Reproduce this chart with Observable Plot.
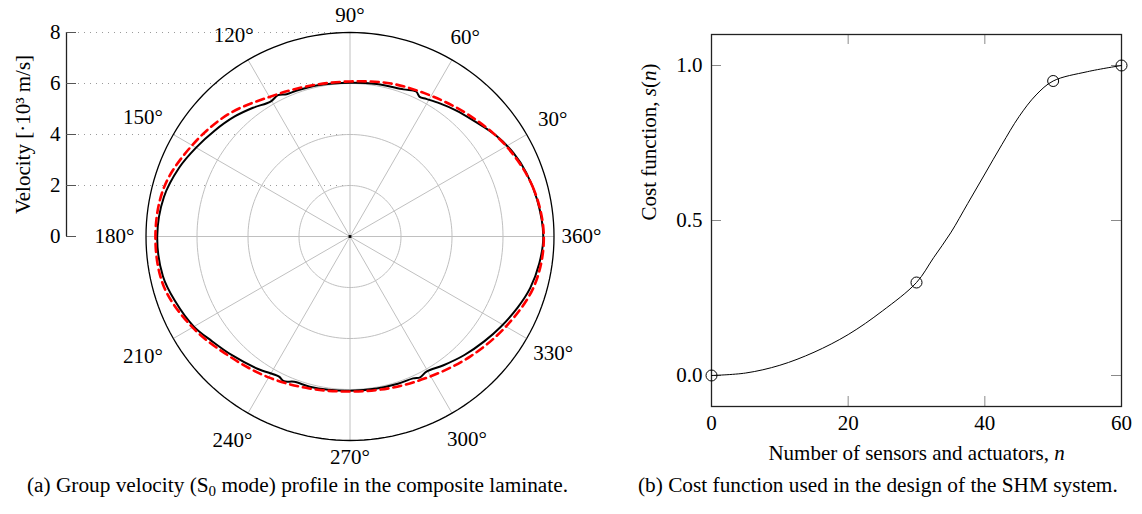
<!DOCTYPE html>
<html>
<head>
<meta charset="utf-8">
<script src="https://cdn.jsdelivr.net/npm/d3@7"></script>
<script src="https://cdn.jsdelivr.net/npm/@observablehq/plot@0.6"></script>
<style>
  html, body { margin: 0; padding: 0; background: #fff; }
  #wrap { position: relative; width: 1142px; height: 514px; overflow: hidden; background: #fff; font-family: "Liberation Serif", "Times New Roman", serif; }
  #left { position: absolute; left: 0; top: 0; }
  #right { position: absolute; left: 571px; top: 0; }
  .cap { position: absolute; top: 473px; font-size: 21.3px; line-height: 24px; white-space: nowrap; color: #000; }
  .cap sub { font-size: 15px; vertical-align: -4px; line-height: 0; }
</style>
</head>
<body>
<div id="wrap">
  <div id="left"></div>
  <div id="right"></div>
  <div class="cap" style="left:27px">(a) Group velocity (S<sub>0</sub> mode) profile in the composite laminate.</div>
  <div class="cap" style="left:638px">(b) Cost function used in the design of the SHM system.</div>
</div>
<script>
// ---------------- Data: panel (a) group velocity profile (·10^3 m/s) ----------------
const blackAngle = [0, 11, 20, 27, 35, 43, 50, 56, 61, 63.5, 65.5, 70, 80, 90, 102, 110, 114, 117, 120.5, 127, 134, 142, 150, 158, 168, 180, 192, 200, 210, 217, 225, 235, 243, 245.5, 249, 255, 262, 270, 280, 288, 294, 296.5, 299.5, 306, 314, 322, 329, 337, 344, 352];
const blackVel   = [7.58, 7.48, 7.35, 7.20, 6.95, 6.65, 6.46, 6.30, 6.17, 6.12, 6.25, 6.14, 6.07, 6.03, 6.06, 6.09, 6.11, 6.22, 6.14, 6.32, 6.53, 6.74, 6.97, 7.22, 7.46, 7.56, 7.50, 7.32, 7.07, 6.80, 6.57, 6.33, 6.16, 6.24, 6.10, 6.10, 6.07, 6.05, 6.05, 6.07, 6.09, 6.17, 6.09, 6.24, 6.46, 6.68, 6.89, 7.14, 7.35, 7.50];

const redAngle = [0, 15, 30, 45, 60, 75, 90, 105, 120, 135, 150, 165, 180, 195, 210, 225, 240, 255, 270, 285, 300, 315, 330, 345];
const redVel   = [7.60, 7.43, 7.08, 6.68, 6.37, 6.21, 6.08, 6.12, 6.32, 6.77, 7.15, 7.54, 7.63, 7.56, 7.13, 6.66, 6.38, 6.17, 6.08, 6.15, 6.33, 6.66, 7.06, 7.48];

const radialTicks = [0, 2, 4, 6, 8];
const radialGrid = [2, 4, 6];
const angleTicks = [30, 60, 90, 120, 150, 180, 210, 240, 270, 300, 330, 360];
const spokeAngles = [0, 30, 60, 90, 120, 150, 180, 210, 240, 270, 300, 330];
const rMax = 8;

// ---------------- Data: panel (b) cost function ----------------
const markerN = [0, 30, 50, 60];
const markerS = [0, 0.30, 0.95, 1.00];
const curveN = [0, 5, 10, 15, 20, 25, 30, 32.5, 35, 37.5, 40, 42.5, 45, 47.5, 50, 55, 60];
const curveS = [0, 0.008, 0.033, 0.075, 0.132, 0.208, 0.30, 0.38, 0.46, 0.555, 0.65, 0.745, 0.835, 0.905, 0.95, 0.98, 1.00];
const xTicks = [0, 20, 40, 60];
const yTicks = [0, 0.5, 1.0];

const FONT = "Liberation Serif, Times New Roman, serif";
const FS = 21;
const rad = a => a * Math.PI / 180;

function richText(svg, plain, parts) {
  d3.select(svg).selectAll("text").filter(function () { return this.textContent === plain; })
    .each(function () {
      const t = d3.select(this);
      t.text(null);
      parts.forEach(([s, it]) => {
        const ts = t.append("tspan").text(s);
        if (it) ts.attr("font-style", "italic");
      });
    });
}

// ---------------- Panel (a): polar plot ----------------
{
  const W = 571, H = 470, cx = 349.5, cy = 236, R = 204;
  const xs = {domain: [-rMax, rMax], range: [cx - R, cx + R]};
  const ys = {domain: [-rMax, rMax], range: [cy + R, cy - R]};
  const sx = Plot.scale({x: xs});
  const axisPos = sx.invert(66);
  const tickEnd = sx.invert(66 + 10);
  const labelX = sx.invert(29);

  const blackData = blackAngle.map((a, i) => ({a, v: blackVel[i]}));
  const redData = redAngle.map((a, i) => ({a, v: redVel[i]}));
  const circ = d3.range(0, 361, 2);

  // pixel distance from the pole to each angle label's centre (layout)
  const labelDist = {30: 234, 60: 230.5, 90: 221, 120: 232.5, 150: 239, 180: 235.5,
                     210: 239, 240: 235, 270: 221, 300: 234, 330: 234.5, 360: 231.5};

  const chart = Plot.plot({
    width: W, height: H,
    marginLeft: 66, marginTop: cy - R, marginBottom: H - cy, marginRight: W - cx,
    x: {...xs, axis: null},
    y: ys,
    style: {fontFamily: FONT, fontSize: FS + "px", background: "none", color: "#000", overflow: "visible"},
    marks: [
      Plot.ruleY([2, 4, 6, 8], {x1: axisPos, x2: 0, stroke: "#9a9a9a", strokeWidth: 1, strokeDasharray: "1,5"}),
      ...radialGrid.map(r => Plot.line(circ, {x: a => r * Math.cos(rad(a)), y: a => r * Math.sin(rad(a)), stroke: "#c0c0c0", strokeWidth: 1})),
      Plot.link(spokeAngles, {x1: () => 0, y1: () => 0, x2: a => rMax * Math.cos(rad(a)), y2: a => rMax * Math.sin(rad(a)), stroke: "#c0c0c0", strokeWidth: 1}),
      Plot.line(circ, {x: a => rMax * Math.cos(rad(a)), y: a => rMax * Math.sin(rad(a)), stroke: "#000", strokeWidth: 1.3}),
      Plot.line(blackData, {x: d => d.v * Math.cos(rad(d.a)), y: d => d.v * Math.sin(rad(d.a)), curve: "catmull-rom-closed", stroke: "#000", strokeWidth: 2}),
      Plot.line(redData, {x: d => d.v * Math.cos(rad(d.a)), y: d => d.v * Math.sin(rad(d.a)), curve: "catmull-rom-closed", stroke: "#ff0000", strokeWidth: 2.6, strokeDasharray: "8,5"}),
      Plot.dot([0], {x: () => 0, y: () => 0, r: 1.6, fill: "#000", stroke: "none", symbol: "square"}),
      Plot.ruleX([axisPos], {y1: 0, y2: rMax, stroke: "#222", strokeWidth: 1.3}),
      Plot.ruleY(radialTicks, {x1: axisPos, x2: tickEnd, stroke: "#555", strokeWidth: 1}),
      Plot.axisY({ticks: radialTicks, tickSize: 0, tickPadding: 6, tickFormat: d => String(d), label: null, fontSize: FS}),
      Plot.text(["Velocity [·10³ m/s]"], {x: () => labelX, y: () => rMax / 2, text: d => d, rotate: -90, lineAnchor: "bottom", textAnchor: "middle"}),
      Plot.text(angleTicks, {
        x: a => rMax * labelDist[a] / R * Math.cos(rad(a)),
        y: a => rMax * labelDist[a] / R * Math.sin(rad(a)),
        text: a => a + "°", textAnchor: "middle", lineAnchor: "middle", fill: "#000"
      })
    ]
  });
  document.getElementById("left").appendChild(chart);
}

// ---------------- Panel (b): cost function ----------------
{
  const W = 571, H = 470, mL = 140, mR = 21, mT = 34, mB = 64;
  const fw = W - mL - mR, fh = H - mT - mB, tl = 10;
  const curveData = curveN.map((n, i) => ({n, s: curveS[i]}));
  const markerData = markerN.map((n, i) => ({n, s: markerS[i]}));
  const xLabel = "Number of sensors and actuators, n";
  const yLabel = "Cost function, s(n)";

  const chart = Plot.plot({
    width: W, height: H,
    marginLeft: mL, marginRight: mR, marginTop: mT, marginBottom: mB,
    x: {domain: [0, 60]},
    y: {domain: [-0.1, 1.1]},
    style: {fontFamily: FONT, fontSize: FS + "px", background: "none", color: "#000", overflow: "visible"},
    marks: [
      Plot.ruleX(xTicks, {insetBottom: fh - tl, stroke: "#8a8a8a", strokeWidth: 1}),
      Plot.ruleX(xTicks, {insetTop: fh - tl, stroke: "#8a8a8a", strokeWidth: 1}),
      Plot.ruleY(yTicks, {insetRight: fw - tl, stroke: "#8a8a8a", strokeWidth: 1}),
      Plot.ruleY(yTicks, {insetLeft: fw - tl, stroke: "#8a8a8a", strokeWidth: 1}),
      Plot.frame({stroke: "#222", strokeWidth: 1.3}),
      Plot.line(curveData, {x: "n", y: "s", curve: "catmull-rom", stroke: "#000", strokeWidth: 1}),
      Plot.dot(markerData, {x: "n", y: "s", r: 5.5, stroke: "#000", strokeWidth: 1, fill: "none"}),
      Plot.axisX({ticks: xTicks, tickSize: 0, tickPadding: 9, tickFormat: d => String(d), label: null, fontSize: FS}),
      Plot.axisY({ticks: yTicks, tickSize: 0, tickPadding: 9, tickFormat: d3.format(".1f"), label: null, fontSize: FS}),
      Plot.text([xLabel], {frameAnchor: "bottom", dy: 53, lineAnchor: "bottom", text: d => d}),
      Plot.text([yLabel], {frameAnchor: "left", dx: -56, rotate: -90, lineAnchor: "bottom", text: d => d})
    ]
  });
  document.getElementById("right").appendChild(chart);
  richText(chart, xLabel, [["Number of sensors and actuators, ", false], ["n", true]]);
  richText(chart, yLabel, [["Cost function, ", false], ["s", true], ["(", false], ["n", true], [")", false]]);
}
</script>
</body>
</html>
